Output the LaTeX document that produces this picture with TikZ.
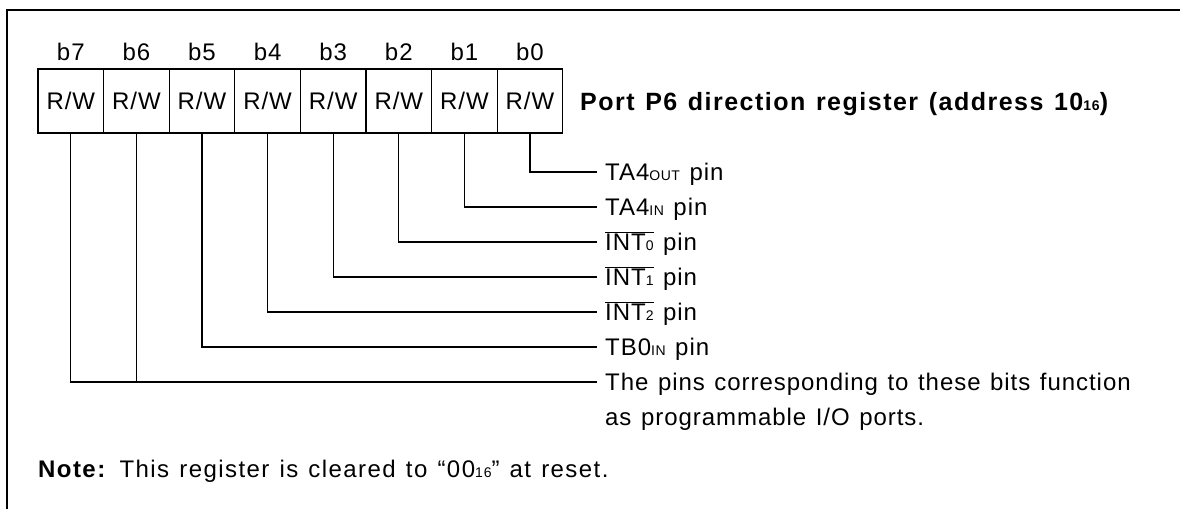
\documentclass[tikz,border=0pt]{standalone}
\usepackage{fontspec}
\setmainfont[LetterSpace=4,WordSpace=1.25]{Liberation Sans}
\newcommand{\lowsub}[1]{{\fontsize{14}{14}\selectfont #1}}
\newcommand{\barsig}[1]{$\overline{\hbox{#1}}$}
\begin{document}
\begin{tikzpicture}[x=1pt,y=-1pt,
  font=\fontsize{24}{28}\selectfont,
  cell/.style={draw,line width=1.2pt,minimum width=65.6pt,minimum height=64pt,inner sep=0pt},
  bitlab/.style={anchor=base,inner sep=0pt},
  pinlabel/.style={anchor=west,inner xsep=8pt,inner ysep=0pt,text height=17pt,text depth=0pt},
  conn/.style={line width=1.2pt},
  frame/.style={line width=2.5pt}]
\useasboundingbox (0,0) rectangle (1180,509);
\draw[frame] (7,509) -- (7,10) -- (1180,10);
\foreach \i in {0,...,7}{
  \node[cell] (c\i) at ({38+65.6*(7-\i)+32.8},101) {R/W};
  \node[bitlab] (l\i) at ({38+65.6*(7-\i)+32.8},60) {b\i};
}
\node[anchor=base west,inner sep=0pt,font=\fontsize{25}{29}\selectfont\bfseries\addfontfeatures{LetterSpace=6}] (title) at (580,110) {Port P6 direction register (address 10\lowsub{16})};
\node[pinlabel] (p0) at (597,172) {TA4\lowsub{OUT} pin};
\node[pinlabel] (p1) at (597,207) {TA4\lowsub{IN} pin};
\node[pinlabel] (p2) at (597,242) {\barsig{INT\lowsub{0}} pin};
\node[pinlabel] (p3) at (597,277) {\barsig{INT\lowsub{1}} pin};
\node[pinlabel] (p4) at (597,312) {\barsig{INT\lowsub{2}} pin};
\node[pinlabel] (p5) at (597,347) {TB0\lowsub{IN} pin};
\node[pinlabel] (p6) at (597,382) {The pins corresponding to these bits function};
\node[pinlabel] (p6b) at (597,417) {as programmable I/O ports.};
\node[anchor=base west,inner sep=0pt,font=\fontsize{24}{28}\selectfont\addfontfeatures{LetterSpace=6}] (note) at (38,477) {\textbf{Note:} This register is cleared to ``00\lowsub{16}'' at reset.};
\foreach \i in {0,...,5}{
  \draw[conn] (c\i.south) |- (p\i.west);
}
\draw[conn] (c7.south) |- (p6.west);
\draw[conn] (c6.south) -- (c6.south |- p6.west);
\end{tikzpicture}
\end{document}
